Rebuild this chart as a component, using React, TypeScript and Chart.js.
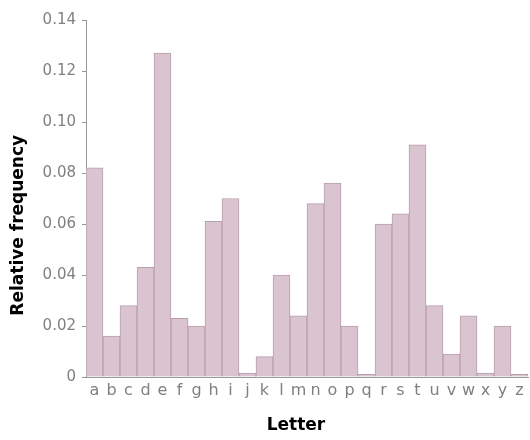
import React, { useEffect, useRef } from "react";
import { Chart, registerables } from "chart.js";

Chart.register(...registerables);

const letters = ["a","b","c","d","e","f","g","h","i","j","k","l","m","n","o","p","q","r","s","t","u","v","w","x","y","z"];
const frequencies = [0.082, 0.016, 0.028, 0.043, 0.127, 0.023, 0.020, 0.061, 0.070, 0.0015, 0.008, 0.040, 0.024, 0.068, 0.076, 0.020, 0.001, 0.060, 0.064, 0.091, 0.028, 0.009, 0.024, 0.0015, 0.020, 0.001];
const yTicks = [0, 0.02, 0.04, 0.06, 0.08, 0.10, 0.12, 0.14];
const xTitle = "Letter";
const yTitle = "Relative frequency";

const titlePlugin = {
  id: "axisTitles",
  afterDraw(chart: any) {
    const { ctx, chartArea } = chart;
    ctx.save();
    ctx.fillStyle = "#000";
    ctx.font = "bold 17px 'DejaVu Sans'";
    ctx.textAlign = "center";
    ctx.textBaseline = "middle";
    ctx.fillText(xTitle, chartArea.left + (chartArea.right - chartArea.left) * 0.475, 426);
    ctx.translate(19, chartArea.top + (chartArea.bottom - chartArea.top) * 0.575);
    ctx.rotate(-Math.PI / 2);
    ctx.fillText(yTitle, 0, 0);
    ctx.restore();
  },
};

export default function App() {
  const ref = useRef<HTMLCanvasElement>(null);
  useEffect(() => {
    if (!ref.current) return;
    const chart = new Chart(ref.current, {
      type: "bar",
      data: {
        labels: letters,
        datasets: [{
          data: frequencies,
          backgroundColor: "#dac4d0",
          borderColor: "#b89fac",
          borderWidth: 1,
          barPercentage: 1,
          categoryPercentage: 1,
        }],
      },
      options: {
        animation: false,
        responsive: false,
        maintainAspectRatio: false,
        layout: { padding: { top: 20, right: 2, left: 0, bottom: 0 } },
        plugins: { legend: { display: false }, tooltip: { enabled: false } },
        scales: {
          x: {
            grid: { display: false, drawTicks: false },
            border: { display: true, color: "#999", width: 1 },
            ticks: { color: "#808080", font: { family: "DejaVu Sans", size: 16 }, padding: 4, autoSkip: false, maxRotation: 0 },
            afterFit: (s: any) => { s.height = 63; },
          },
          y: {
            min: 0,
            max: 0.14,
            afterBuildTicks: (s: any) => { s.ticks = yTicks.map((v) => ({ value: v })); },
            grid: { display: true, drawOnChartArea: false, tickLength: 4, color: "#999" },
            border: { display: true, color: "#999", width: 1 },
            ticks: {
              color: "#808080",
              font: { family: "DejaVu Sans", size: 15 },
              padding: 6,
              callback: (v: any) => (Number(v) === 0 ? "0" : Number(v).toFixed(2)),
            },
            afterFit: (s: any) => { s.width = 86; },
          },
        },
      },
      plugins: [titlePlugin],
    });
    return () => chart.destroy();
  }, []);
  return (
    <div style={{ position: "absolute", left: 0, top: 0, width: 530, height: 440, background: "#fff" }}>
      <canvas ref={ref} width={530} height={440} style={{ width: 530, height: 440 }} />
    </div>
  );
}
